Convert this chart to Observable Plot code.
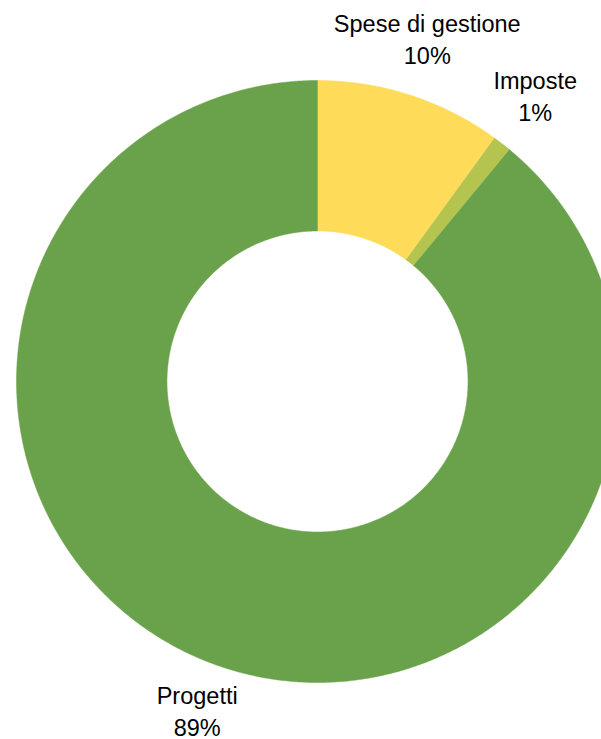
<!DOCTYPE html>
<html>
<head>
<meta charset="utf-8">
<script src="https://cdn.jsdelivr.net/npm/d3@7"></script>
<script src="https://cdn.jsdelivr.net/npm/@observablehq/plot@0.6"></script>
<style>
  html, body { margin: 0; padding: 0; background: #fff; }
  #chart { width: 601px; height: 739px; }
</style>
</head>
<body>
<div id="chart"></div>
<script>
// Data
const categories = ["Spese di gestione", "Imposte", "Progetti"];
const values = [10, 1, 89];
const percentLabels = ["10%", "1%", "89%"];
const colors = ["#ffdb5a", "#b4c44e", "#6aa24b"];

const innerRatio = 0.5;
const labelRadius = 1.18;

const pie = d3.pie().sort(null).value(d => d.value)(
  categories.map((name, i) => ({name, value: values[i], label: percentLabels[i]}))
);

// Build polygon rings for each slice (unit polar coords, angle clockwise from 12 o'clock)
const ringPts = [];
for (const s of pie) {
  const n = Math.max(4, Math.ceil((s.endAngle - s.startAngle) / (Math.PI / 360)));
  const outer = d3.range(n + 1).map(k => s.startAngle + (s.endAngle - s.startAngle) * k / n);
  for (const a of outer) ringPts.push({name: s.data.name, x: Math.sin(a), y: Math.cos(a)});
  for (const a of outer.slice().reverse()) ringPts.push({name: s.data.name, x: innerRatio * Math.sin(a), y: innerRatio * Math.cos(a)});
}

const labels = pie.map(s => {
  const m = (s.startAngle + s.endAngle) / 2;
  return {text: s.data.name + "\n" + s.data.label, x: labelRadius * Math.sin(m), y: labelRadius * Math.cos(m)};
});

const chart = Plot.plot({
  width: 601,
  height: 739,
  margin: 0,
  x: {domain: [-1, 1], range: [16, 618], axis: null},
  y: {domain: [-1, 1], range: [682, 80], axis: null},
  color: {domain: categories, range: colors},
  style: {background: "#fff"},
  marks: [
    Plot.line(ringPts, {x: "x", y: "y", z: "name", fill: "name", stroke: "name", strokeWidth: 0.5, curve: "linear"}),
    Plot.text(labels, {
      x: "x", y: "y", text: "text", dy: -6,
      fontSize: 23.5, fontFamily: "Liberation Sans, Arial, sans-serif",
      fill: "#000", lineHeight: 1.36, textAnchor: "middle", lineAnchor: "middle"
    })
  ]
});
chart.style.overflow = "hidden";
document.getElementById("chart").appendChild(chart);
</script>
</body>
</html>
